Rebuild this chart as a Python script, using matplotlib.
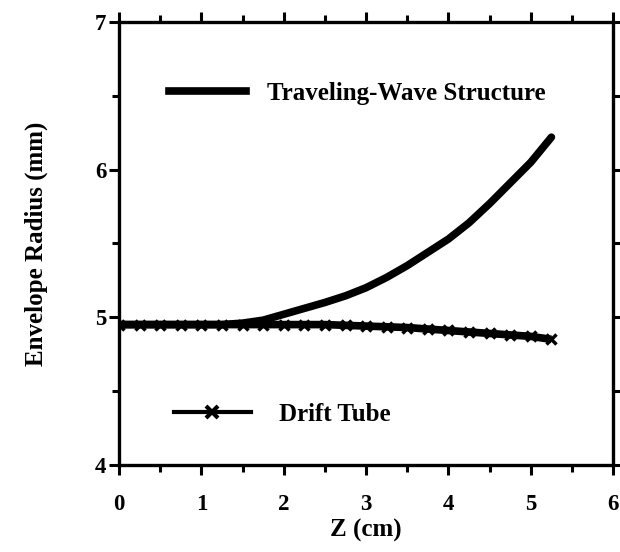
import matplotlib
matplotlib.use("Agg")
import matplotlib.pyplot as plt
from matplotlib.lines import Line2D
from matplotlib.ticker import MultipleLocator

# Envelope radius along z
z = [0.0, 0.25, 0.5, 0.75, 1.0, 1.25, 1.5, 1.75, 2.0, 2.25, 2.5, 2.75,
     3.0, 3.25, 3.5, 3.75, 4.0, 4.25, 4.5, 4.75, 5.0, 5.25]
traveling_wave = [4.95, 4.95, 4.95, 4.95, 4.95, 4.95, 4.96, 4.98, 5.02, 5.06,
                  5.10, 5.145, 5.20, 5.27, 5.35, 5.44, 5.53, 5.64, 5.77, 5.91,
                  6.05, 6.22]
drift_tube = [4.95, 4.95, 4.95, 4.95, 4.95, 4.95, 4.95, 4.95, 4.95, 4.95,
              4.95, 4.945, 4.94, 4.935, 4.93, 4.92, 4.91, 4.90, 4.89, 4.88,
              4.87, 4.85]

serif = ['Liberation Serif', 'DejaVu Serif']
plt.rcParams['font.family'] = serif
plt.rcParams['font.weight'] = 'bold'

fig = plt.figure(figsize=(6.2, 5.52), dpi=100)
ax = fig.add_axes([0.192, 0.158, 0.797, 0.802])

ax.plot(z, drift_tube, color='black', lw=5.5, marker='x', ms=7, mew=2.5,
        solid_capstyle='butt')
ax.plot(z, traveling_wave, color='black', lw=5.5, solid_capstyle='round')

ax.set_xlim(0, 6)
ax.set_ylim(4, 7)
ax.xaxis.set_major_locator(MultipleLocator(1))
ax.xaxis.set_minor_locator(MultipleLocator(0.5))
ax.yaxis.set_major_locator(MultipleLocator(1))
ax.yaxis.set_minor_locator(MultipleLocator(0.5))
ax.tick_params(which='both', direction='out', top=True, right=True,
               width=2.2, labelsize=16.5)
ax.tick_params(which='major', length=7)
ax.tick_params(which='minor', length=5)
ax.tick_params(axis='x', pad=14)
ax.tick_params(axis='y', pad=2)
for s in ax.spines.values():
    s.set_linewidth(2.4)

ax.set_xlabel('Z (cm)', fontsize=18, fontweight='bold', labelpad=3)
ax.set_ylabel('Envelope Radius (mm)', fontsize=18, fontweight='bold', labelpad=34)

# legend entries
h_tw = Line2D([], [], color='black', lw=5.5)
h_dt = Line2D([], [], color='black', lw=3, marker='x', ms=8, mew=3)
leg1 = ax.legend([h_tw], ['Traveling-Wave Structure'], loc='upper left',
                 bbox_to_anchor=(0.055, 0.915), frameon=False, handlelength=3.1,
                 handletextpad=0.85, prop={'size': 18, 'weight': 'bold'})
ax.add_artist(leg1)
ax.legend([h_dt], ['Drift Tube'], loc='upper left',
          bbox_to_anchor=(0.065, 0.19), frameon=False, handlelength=3.1,
          handletextpad=1.1, prop={'size': 18, 'weight': 'bold'})

fig.savefig('out.png', dpi=100)
